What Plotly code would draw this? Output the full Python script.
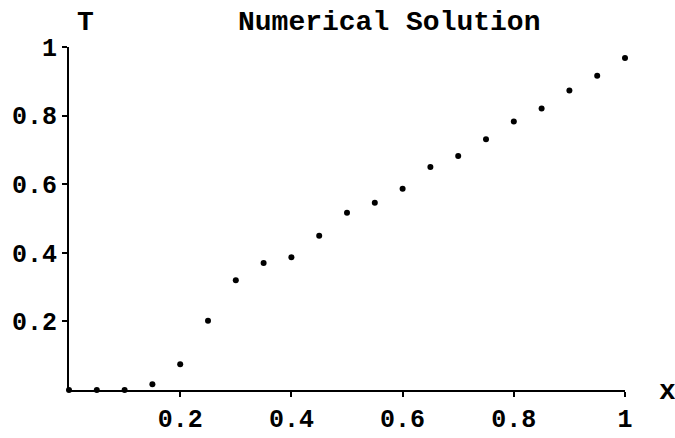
import plotly.graph_objects as go

x_vals = [0.0, 0.05, 0.1, 0.15, 0.2, 0.25, 0.3, 0.35, 0.4, 0.45, 0.5,
          0.55, 0.6, 0.65, 0.7, 0.75, 0.8, 0.85, 0.9, 0.95, 1.0]
t_vals = [0.0, 0.0, 0.0, 0.017, 0.075, 0.202, 0.32, 0.37, 0.387, 0.45, 0.517,
          0.546, 0.587, 0.65, 0.682, 0.731, 0.783, 0.821, 0.873, 0.916, 0.968]
x_ticks = [0.2, 0.4, 0.6, 0.8, 1.0]
x_ticktext = ["0.2", "0.4", "0.6", "0.8", "1"]
y_ticks = [0.2, 0.4, 0.6, 0.8, 1.0]
y_ticktext = ["0.2", "0.4", "0.6", "0.8", "1"]

FONT = "Liberation Mono"
fsize = 28
tsize = 25

fig = go.Figure()
fig.add_trace(go.Scatter(x=x_vals, y=t_vals, mode="markers",
                         marker=dict(color="black", size=6),
                         cliponaxis=False, showlegend=False))

fig.update_layout(
    width=675, height=438,
    margin=dict(l=69, r=50, t=47, b=48),
    paper_bgcolor="white", plot_bgcolor="white",
    font=dict(family=FONT, size=fsize, color="black"),
    xaxis=dict(range=[0, 1], showgrid=False, zeroline=False, automargin=False,
               showline=True, linecolor="black", linewidth=2,
               ticks="outside", ticklen=5, tickwidth=2, tickcolor="black",
               tickvals=x_ticks, ticktext=["<b>%s</b>" % t for t in x_ticktext],
               ticklabelstandoff=0,
               tickfont=dict(family=FONT, size=tsize, color="black")),
    yaxis=dict(range=[0, 1], showgrid=False, zeroline=False, automargin=False,
               showline=True, linecolor="black", linewidth=2,
               ticks="outside", ticklen=5, tickwidth=2, tickcolor="black",
               tickvals=y_ticks, ticktext=["<b>%s</b>" % t for t in y_ticktext],
               tickfont=dict(family=FONT, size=tsize, color="black")),
    annotations=[
        dict(text="<b>Numerical Solution</b>", xref="paper", yref="paper",
             x=0.576, y=1.072, xanchor="center", yanchor="middle",
             showarrow=False, font=dict(family=FONT, size=fsize)),
        dict(text="<b>T</b>", xref="paper", yref="paper",
             x=0.029, y=1.072, xanchor="center", yanchor="middle",
             showarrow=False, font=dict(family=FONT, size=fsize)),
        dict(text="<b>x</b>", xref="paper", yref="paper",
             x=1.077, y=-0.005, xanchor="center", yanchor="middle",
             showarrow=False, font=dict(family=FONT, size=fsize)),
    ],
)

fig.write_html("out.html")
